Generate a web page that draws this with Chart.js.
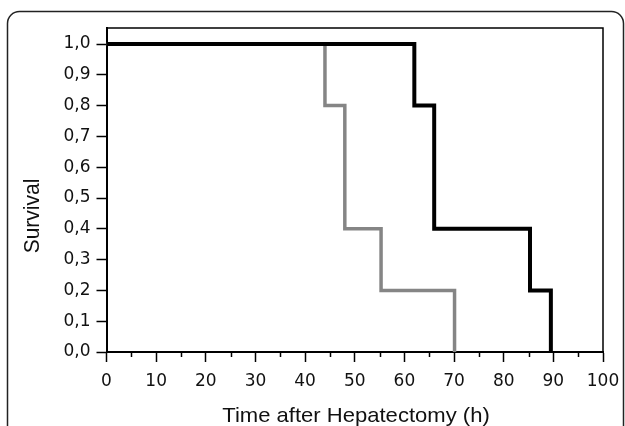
<!DOCTYPE html>
<html>
<head>
<meta charset="utf-8">
<script src="https://cdn.jsdelivr.net/npm/chart.js@4"></script>
<style>
  html, body { margin: 0; padding: 0; background: #fff; }
  #chart { display: block; }
</style>
</head>
<body>
<canvas id="chart" width="625" height="426"></canvas>
<script>
// -------- Data ----------
const blackTimes = [0, 62, 66, 85.3, 89.5];
const blackSurv  = [1.0, 0.8, 0.4, 0.2, 0.0];
const grayTimes  = [0, 44, 48, 55.3, 70.1];
const graySurv   = [1.0, 0.8, 0.4, 0.2, 0.0];
const xTicks = [0, 10, 20, 30, 40, 50, 60, 70, 80, 90, 100];
const xMinorTicks = [5, 15, 25, 35, 45, 55, 65, 75, 85, 95];
const yTicks = [0, 0.1, 0.2, 0.3, 0.4, 0.5, 0.6, 0.7, 0.8, 0.9, 1.0];
const xTitle = "Time after Hepatectomy (h)";
const yTitle = "Survival";

const FONT = "'Liberation Sans', Arial, Helvetica, sans-serif";
const TICK_FONT = "'DejaVu Sans', sans-serif";

// -------- Utilities ----------
const toPoints = (xs, ys) => xs.map((x, i) => ({ x, y: ys[i] }));
const comma = (v) => v.toFixed(1).replace(".", ",");

// frame, plot box, minor ticks and axis titles
const decorations = {
  id: "decorations",
  beforeDraw(chart) {
    const ctx = chart.ctx;
    ctx.save();
    ctx.strokeStyle = "#222";
    ctx.lineWidth = 1.5;
    ctx.beginPath();
    ctx.roundRect(7.5, 11.5, 616, 460, 12);
    ctx.stroke();
    ctx.restore();
  },
  afterDraw(chart) {
    const { ctx, chartArea: a, scales } = chart;
    ctx.save();
    // box around plot
    ctx.strokeStyle = "#000";
    ctx.lineWidth = 1.5;
    ctx.beginPath();
    ctx.moveTo(a.left, a.top);
    ctx.lineTo(a.right, a.top);
    ctx.lineTo(a.right, a.bottom);
    ctx.stroke();
    // minor x ticks
    xMinorTicks.forEach(v => {
      const px = Math.round(scales.x.getPixelForValue(v)) + 0.5;
      ctx.beginPath();
      ctx.moveTo(px, a.bottom);
      ctx.lineTo(px, a.bottom + 5);
      ctx.stroke();
    });
    // axis titles (source figure is a bit wider than tall)
    ctx.fillStyle = "#111";
    ctx.font = `21px ${FONT}`;
    ctx.textAlign = "center";
    ctx.textBaseline = "middle";
    ctx.save();
    ctx.translate(356, 416);
    ctx.scale(1.05, 1);
    ctx.fillText(xTitle, 0, 0);
    ctx.restore();
    ctx.translate(33, 216);
    ctx.rotate(-Math.PI / 2);
    ctx.scale(1, 1.05);
    ctx.fillText(yTitle, 0, 0);
    ctx.restore();
  }
};

// ----- Chart -----
function renderChart() {
  const ctx = document.getElementById("chart").getContext("2d");
  new Chart(ctx, {
    type: "line",
    data: {
      datasets: [
        {
          label: "black",
          data: toPoints(blackTimes, blackSurv),
          borderColor: "#000",
          borderWidth: 4,
          stepped: "before",
          pointRadius: 0,
          borderJoinStyle: "miter",
          fill: false
        },
        {
          label: "gray",
          data: toPoints(grayTimes, graySurv),
          borderColor: "#858585",
          borderWidth: 3.5,
          stepped: "before",
          pointRadius: 0,
          borderJoinStyle: "miter",
          fill: false
        }
      ]
    },
    options: {
      responsive: false,
      animation: false,
      layout: { padding: { top: 28, right: 22, left: 0, bottom: 0 } },
      plugins: { legend: { display: false }, tooltip: { enabled: false } },
      scales: {
        x: {
          type: "linear",
          min: 0,
          max: 100,
          afterBuildTicks: s => { s.ticks = xTicks.map(v => ({ value: v })); },
          afterFit: s => { s.height = 74; s.paddingLeft = 0; s.paddingRight = 0; },
          ticks: {
            color: "#111",
            font: { family: TICK_FONT, size: 17 },
            padding: 9,
            maxRotation: 0,
            autoSkip: false,
            callback: v => String(v)
          },
          grid: { drawOnChartArea: false, tickLength: 10, tickColor: "#000", tickWidth: 1.5 },
          border: { color: "#000", width: 2 }
        },
        y: {
          min: 0,
          max: 1.052,
          afterBuildTicks: s => { s.ticks = yTicks.map(v => ({ value: v })); },
          afterFit: s => { s.width = 106.5; },
          ticks: {
            color: "#111",
            font: { family: TICK_FONT, size: 17 },
            padding: 6,
            autoSkip: false,
            callback: v => comma(v)
          },
          grid: { drawOnChartArea: false, tickLength: 10, tickColor: "#000", tickWidth: 1.5 },
          border: { color: "#000", width: 2 }
        }
      }
    },
    plugins: [decorations]
  });
}

document.addEventListener("DOMContentLoaded", renderChart);
</script>
</body>
</html>
